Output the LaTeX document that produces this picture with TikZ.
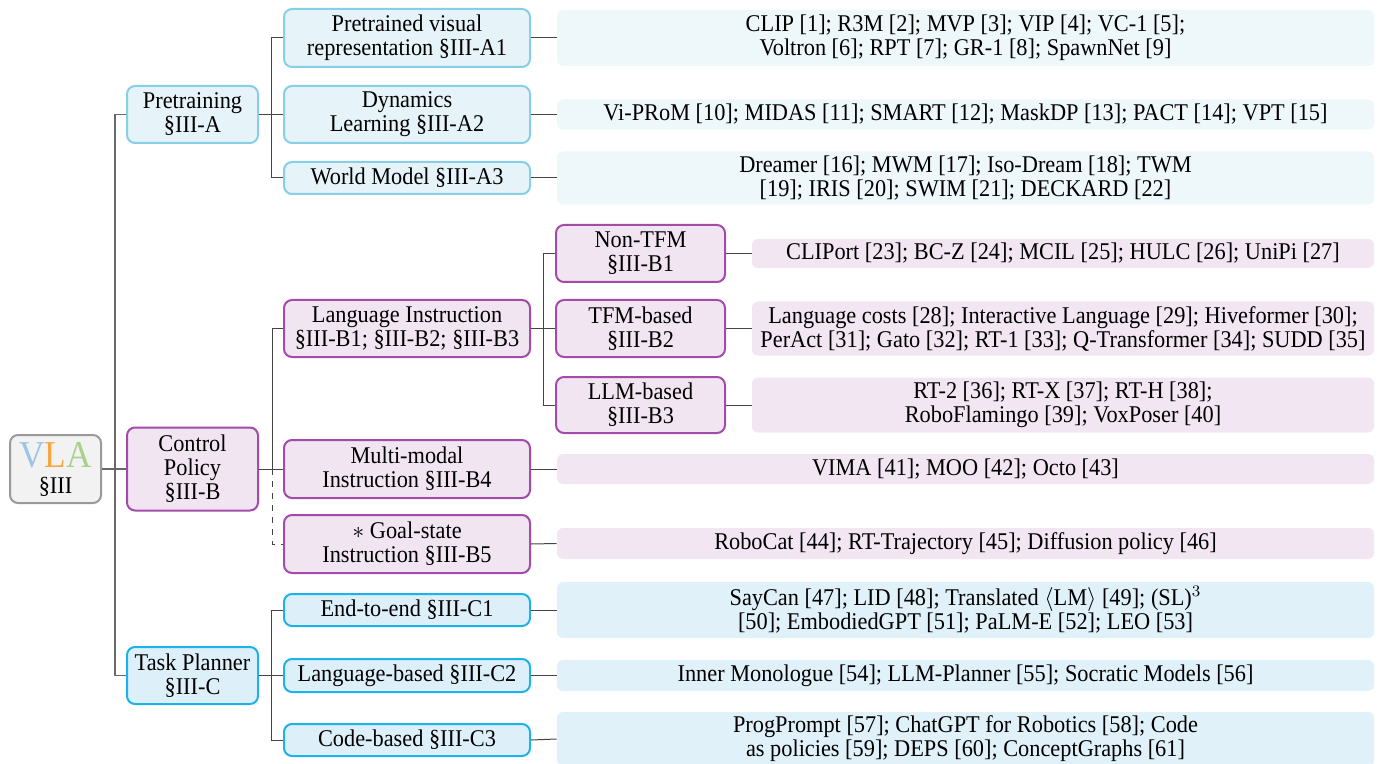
\documentclass[tikz,border=0pt]{standalone}
\usepackage{fontspec}
\setmainfont[FakeStretch=0.93]{Liberation Serif}
\usetikzlibrary{calc}

\definecolor{vlaV}{HTML}{9DC3E6}
\definecolor{vlaL}{HTML}{F4A742}
\definecolor{vlaA}{HTML}{A9D18E}
\definecolor{rootfill}{HTML}{F2F2F2}
\definecolor{rootline}{HTML}{9A9A9A}
\definecolor{preline}{HTML}{86CFE6}
\definecolor{prefill}{HTML}{E6F4F9}
\definecolor{prerefs}{HTML}{EEF7FA}
\definecolor{ctlline}{HTML}{A24BA8}
\definecolor{ctlfill}{HTML}{F2E5F2}
\definecolor{ctlrefs}{HTML}{F1E6F2}
\definecolor{tskline}{HTML}{1DB2E8}
\definecolor{tskfill}{HTML}{DDF0FA}
\definecolor{tskrefs}{HTML}{E0F1FA}
\definecolor{wire}{HTML}{444444}

\tikzset{
  box/.style={rectangle, rounded corners=4pt, line width=1pt, inner sep=0pt,
    align=center, font=\fontsize{12}{12}\selectfont},
  rootbox/.style={box, draw=rootline, fill=rootfill},
  prebox/.style={box, draw=preline, fill=prefill},
  ctlbox/.style={box, draw=ctlline, fill=ctlfill},
  tskbox/.style={box, draw=tskline, fill=tskfill},
  refbox/.style={rectangle, rounded corners=3pt, inner sep=0pt, align=center,
    font=\fontsize{12}{12}\selectfont},
  prerefbox/.style={refbox, fill=prerefs},
  ctlrefbox/.style={refbox, fill=ctlrefs},
  tskrefbox/.style={refbox, fill=tskrefs},
  wirestyle/.style={draw=wire, line width=0.5pt},
  trunkstyle/.style={draw=wire!80, line width=0.7pt},
  sz/.style 2 args={minimum width=#1*0.5pt, minimum height=#2*0.5pt},
}

\begin{document}
\begin{tikzpicture}[x=0.5pt, y=-0.5pt]
\useasboundingbox (0,0) rectangle (1384,764);

% root
\node[rootbox, sz={91}{68}] (vla) at (55.5,469)
  {{\fontsize{19}{19}\selectfont\textcolor{vlaV}{V}\textcolor{vlaL}{L}\textcolor{vlaA}{A}}\\[1pt]\S III};

% first level
\node[prebox, sz={131}{57}] (pre) at (192.5,114.5) {Pretraining\\\S III-A};
\node[ctlbox, sz={131}{83}] (cp) at (192.5,469) {Control\\Policy\\\S III-B};
\node[tskbox, sz={131}{57}] (tp) at (192.5,675.5) {Task Planner\\\S III-C};

% pretraining branch
\node[prebox, sz={246}{58}] (a1) at (407,38) {Pretrained visual\\representation \S III-A1};
\node[prebox, sz={246}{57}] (a2) at (407,114.5) {Dynamics\\Learning \S III-A2};
\node[prebox, sz={246}{32}] (a3) at (407,178) {World Model \S III-A3};

\node[prerefbox, sz={817}{56}] (ra1) at (965.5,38)
  {CLIP [1]; R3M [2]; MVP [3]; VIP [4]; VC-1 [5];\\Voltron [6]; RPT [7]; GR-1 [8]; SpawnNet [9]};
\node[prerefbox, sz={817}{30}] (ra2) at (965.5,114.5)
  {Vi-PRoM [10]; MIDAS [11]; SMART [12]; MaskDP [13]; PACT [14]; VPT [15]};
\node[prerefbox, sz={817}{53}] (ra3) at (965.5,178)
  {Dreamer [16]; MWM [17]; Iso-Dream [18]; TWM\\{[19]}; IRIS [20]; SWIM [21]; DECKARD [22]};

% control policy branch
\node[ctlbox, sz={246}{57}] (li) at (407,328.5) {Language Instruction\\\S III-B1; \S III-B2; \S III-B3};
\node[ctlbox, sz={246}{58}] (mm) at (407,469) {Multi-modal\\Instruction \S III-B4};
\node[ctlbox, sz={246}{58}] (gs) at (407,544) {$\ast$ Goal-state\\Instruction \S III-B5};

\node[ctlbox, sz={169}{57}] (b1) at (640.5,253.5) {Non-TFM\\\S III-B1};
\node[ctlbox, sz={169}{57}] (b2) at (640.5,328.5) {TFM-based\\\S III-B2};
\node[ctlbox, sz={169}{56}] (b3) at (640.5,405) {LLM-based\\\S III-B3};

\node[ctlrefbox, sz={622}{29}] (rb1) at (1063,253.5)
  {CLIPort [23]; BC-Z [24]; MCIL [25]; HULC [26]; UniPi [27]};
\node[ctlrefbox, sz={622}{54}] (rb2) at (1063,328.5)
  {Language costs [28]; Interactive Language [29]; Hiveformer [30];\\PerAct [31]; Gato [32]; RT-1 [33]; Q-Transformer [34]; SUDD [35]};
\node[ctlrefbox, sz={622}{55}] (rb3) at (1063,405)
  {RT-2 [36]; RT-X [37]; RT-H [38];\\RoboFlamingo [39]; VoxPoser [40]};
\node[ctlrefbox, sz={817}{30}] (rb4) at (965.5,469)
  {VIMA [41]; MOO [42]; Octo [43]};
\node[ctlrefbox, sz={817}{31}] (rb5) at (965.5,543.5)
  {RoboCat [44]; RT-Trajectory [45]; Diffusion policy [46]};

% task planner branch
\node[tskbox, sz={246}{32}] (c1) at (407,610) {End-to-end \S III-C1};
\node[tskbox, sz={246}{33}] (c2) at (407,675.5) {Language-based \S III-C2};
\node[tskbox, sz={246}{32}] (c3) at (407,740) {Code-based \S III-C3};

\node[tskrefbox, sz={817}{56}] (rc1) at (965.5,610)
  {SayCan [47]; LID [48]; Translated $\langle$LM$\rangle$ [49]; (SL)$^3$\\{[50]}; EmbodiedGPT [51]; PaLM-E [52]; LEO [53]};
\node[tskrefbox, sz={817}{31}] (rc2) at (965.5,675.5)
  {Inner Monologue [54]; LLM-Planner [55]; Socratic Models [56]};
\node[tskrefbox, sz={817}{54}] (rc3) at (965.5,739)
  {ProgPrompt [57]; ChatGPT for Robotics [58]; Code\\as policies [59]; DEPS [60]; ConceptGraphs [61]};

% trunk from the root
\draw[trunkstyle] (vla.east) -- (cp.west);
\draw[trunkstyle] (pre.west) -- ++(-11,0) |- (tp.west);

% pretraining brackets
\draw[wirestyle] (pre.east) -- (a2.west);
\draw[wirestyle] (a1.west) -- ++(-12,0) |- (a3.west);

% control policy brackets
\coordinate (cpjoin) at (272,469);
\draw[wirestyle] (cp.east) -- (mm.west);
\draw[wirestyle] (li.west) -- ++(-11,0) |- (mm.west);
\draw[wirestyle, dashed] (cpjoin) |- (gs.west);
\draw[wirestyle] (li.east) -- (b2.west);
\draw[wirestyle] (b1.west) -- ++(-12,0) |- (b3.west);

% task planner brackets
\draw[wirestyle] (tp.east) -- (c2.west);
\draw[wirestyle] (c1.west) -- ++(-12,0) |- (c3.west);

% leaves to reference lists
\draw[wirestyle] (a1.east) -- (ra1.west);
\draw[wirestyle] (a2.east) -- (ra2.west);
\draw[wirestyle] (a3.east) -- (ra3.west);
\draw[wirestyle] (b1.east) -- (rb1.west);
\draw[wirestyle] (b2.east) -- (rb2.west);
\draw[wirestyle] (b3.east) -- (rb3.west);
\draw[wirestyle] (mm.east) -- (rb4.west);
\draw[wirestyle] (gs.east) -- (rb5.west);
\draw[wirestyle] (c1.east) -- (rc1.west);
\draw[wirestyle] (c2.east) -- (rc2.west);
\draw[wirestyle] (c3.east) -- (rc3.west);
\end{tikzpicture}
\end{document}
